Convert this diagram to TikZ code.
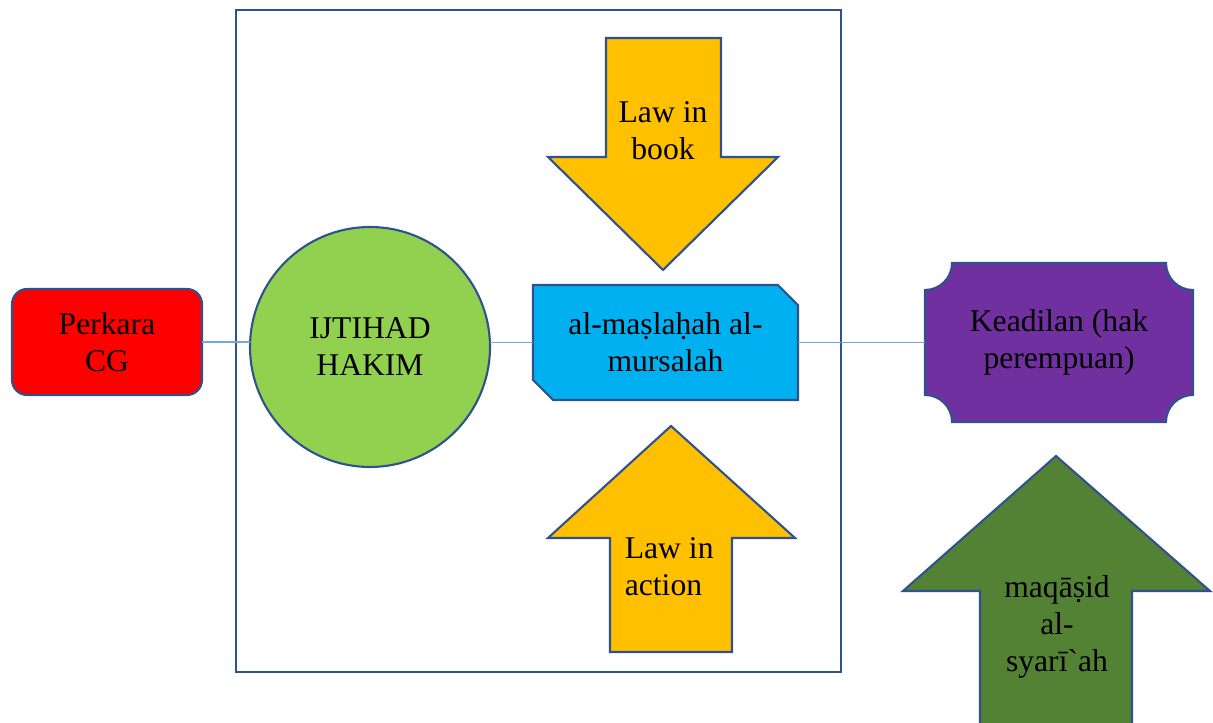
\documentclass[tikz,border=0pt]{standalone}
\usepackage{fontspec}
\setmainfont{Liberation Serif}
\usetikzlibrary{calc,backgrounds}
\definecolor{edge}{RGB}{47,82,143}
\definecolor{linkblue}{RGB}{120,165,215}
\definecolor{redbox}{RGB}{255,0,0}
\definecolor{limebox}{RGB}{146,208,80}
\definecolor{skybox}{RGB}{0,176,240}
\definecolor{purplebox}{RGB}{112,48,160}
\definecolor{goldarrow}{RGB}{255,192,0}
\definecolor{olivearrow}{RGB}{84,130,53}
\tikzset{
  shp/.style={draw=edge,line width=1.2pt},
  txt/.style={align=center,outer sep=0pt,font=\fontsize{18}{21}\selectfont},
  link/.style={draw=linkblue,line width=0.9pt}
}

\begin{document}
\begin{tikzpicture}[x=0.02cm,y=0.02cm]
\clip (0,0) rectangle (1213,723);
\draw[shp] (236,51) rectangle (841,713);

\node[txt,shp,fill=redbox,rounded corners=0.3cm,minimum width=3.8cm,minimum height=2.12cm] (perkara) at (107,381) {Perkara\\CG};
\node[txt,shp,fill=limebox,circle,minimum size=4.8cm] (ijtihad) at (370,376) {IJTIHAD\\HAKIM};
\node[txt,minimum width=5.3cm,minimum height=2.3cm] (masl) at (665.5,380.5) {al-maṣlaḥah al-\\mursalah};
\node[txt,minimum width=5.36cm,minimum height=3.18cm] (kead) at (1059,380.5) {Keadilan (hak\\perempuan)};

\begin{scope}[on background layer]
\draw[shp,fill=skybox] (masl.north west) -- ($(masl.north east)+(-20,0)$) -- ($(masl.north east)+(0,-20)$)
  -- (masl.south east) -- ($(masl.south west)+(20,0)$) -- ($(masl.south west)+(0,20)$) -- cycle;
\draw[shp,fill=purplebox] ($(kead.north west)+(27,0)$) -- ($(kead.north east)+(-27,0)$)
  arc[start angle=180,end angle=270,radius=27] -- ($(kead.south east)+(0,27)$)
  arc[start angle=90,end angle=180,radius=27] -- ($(kead.south west)+(27,0)$)
  arc[start angle=0,end angle=90,radius=27] -- ($(kead.north west)+(0,-27)$)
  arc[start angle=270,end angle=360,radius=27] -- cycle;
\end{scope}

\draw[link] (perkara.east) -- (perkara.east -| ijtihad.west);
\draw[link] (ijtihad.east |- masl.west) -- (masl.west);
\draw[link] (masl.east) -- (kead.west);

% law in book / law in action
\draw[shp,fill=goldarrow] (606,685) -- (721,685) -- (721,566) -- (778,566) -- (663,453) -- (548,566) -- (606,566) -- cycle;
\node[txt] (book) at (663,592) {Law in\\book};
\draw[shp,fill=goldarrow] (610,71) -- (610,185) -- (548,185) -- (671,297) -- (795,185) -- (732,185) -- (732,71) -- cycle;
\node[txt,align=left,anchor=west] (action) at (619,156) {Law in\\action};

% maqasid
\draw[shp,fill=olivearrow] (980,-5) -- (980,132) -- (903,132) -- (1056,267) -- (1210,132) -- (1132,132) -- (1132,-5) -- cycle;
\node[txt] (maqasid) at (1057,96) {maqāṣid\\al-\\syarīˋah};
\end{tikzpicture}
\end{document}
